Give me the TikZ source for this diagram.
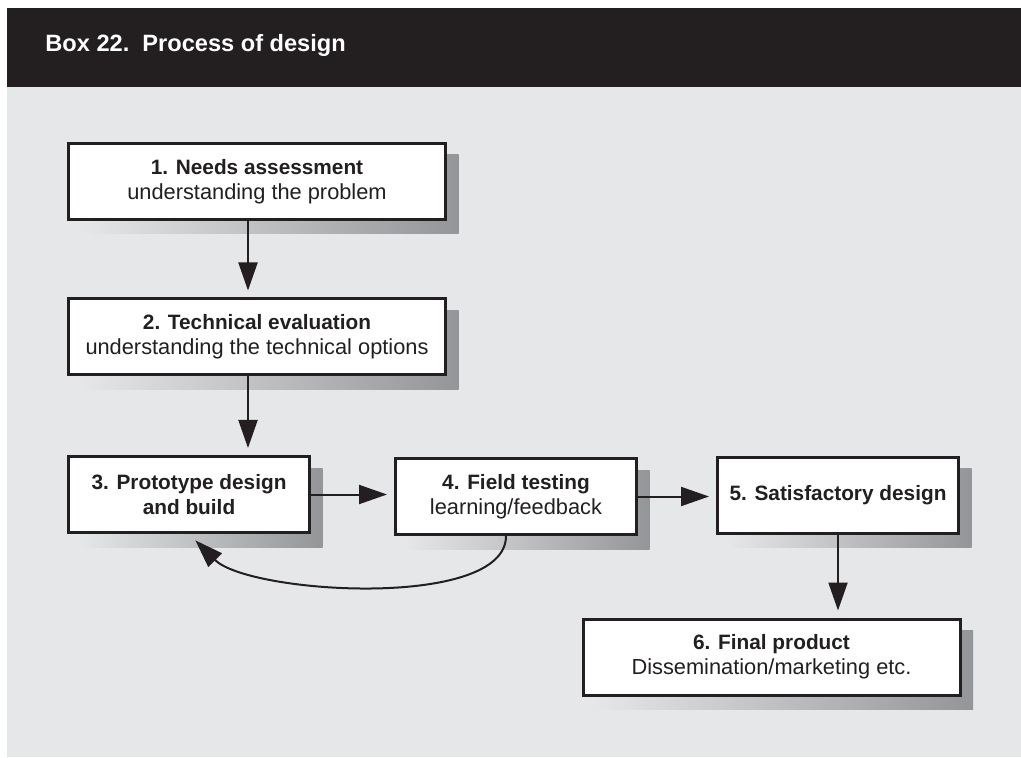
\documentclass[tikz,border=0pt]{standalone}
\usepackage{fontspec}
\setmainfont{Liberation Sans}
\usetikzlibrary{arrows.meta}
\definecolor{headdark}{HTML}{231F20}
\definecolor{panelgray}{HTML}{E6E7E8}
\definecolor{shadegray}{HTML}{939598}
\pgfdeclarelayer{back}
\pgfdeclarelayer{shade}
\pgfsetlayers{back,shade,main}
\newcommand{\stephead}[1]{{\bfseries\fontsize{10.4}{12.6}\selectfont #1}}

\begin{document}
\begin{tikzpicture}[x=0.5pt, y=-0.5pt,
    stepbox/.style={draw=headdark, line width=1.5pt, fill=white, align=center,
      inner sep=0pt, text=headdark, font=\fontsize{10.9}{12.6}\selectfont},
    widebox/.style={stepbox, minimum width=188.5pt, minimum height=38pt},
    smallbox/.style={stepbox, minimum width=120.5pt, minimum height=38pt},
    flow/.style={-{Triangle[length=14pt,width=9.5pt]}, line width=1pt,
      draw=headdark, shorten >=3.5pt}]
    \useasboundingbox (0,0) rectangle (1021,758);

    % Header bar and grey panel
    \begin{pgfonlayer}{back}
        \fill[headdark] (7,8) rectangle (1021,87);
        \fill[panelgray] (7,87) rectangle (1021,757);
    \end{pgfonlayer}
    \node[anchor=base west, inner sep=0pt, text=white, font=\bfseries\fontsize{11.8}{14}\selectfont]
        (title) at (45,52) {Box 22.\ \ Process of design};

    % The six steps
    \node[widebox] (needs) at (257,181.5) {\stephead{1. Needs assessment}\\ understanding the problem};
    \node[widebox] (tech) at (257,337) {\stephead{2. Technical evaluation}\\ understanding the technical options};
    \node[smallbox, font=\bfseries\fontsize{10.4}{12.6}\selectfont] (proto) at (189,494.5) {3. Prototype design\\ and build};
    \node[smallbox] (field) at (516,496.5) {\stephead{4. Field testing}\\ learning/feedback};
    \node[smallbox, font=\bfseries\fontsize{10.4}{12.6}\selectfont] (satis) at (838,495) {5. Satisfactory design};
    \node[widebox] (final) at (771.5,657) {\stephead{6. Final product}\\ Dissemination/marketing etc.};

    % Shadows behind the boxes
    \begin{pgfonlayer}{shade}
        \foreach \b in {needs,tech,proto,field,satis,final}
            \shade[left color=panelgray, right color=shadegray]
                ([shift={(5.75pt,-6.5pt)}]\b.north west) rectangle ([shift={(5.75pt,-6.5pt)}]\b.south east);
    \end{pgfonlayer}

    % Arrows between the steps
    \draw[flow] ([xshift=-4.5pt]needs.south) -- ([xshift=-4.5pt]needs.south |- tech.north);
    \draw[flow] ([xshift=-4.5pt]tech.south) -- ([xshift=-4.5pt]tech.south |- proto.north);
    \draw[flow] (proto.east) -- (proto.east -| field.west);
    \draw[flow] (field.east) -- (field.east -| satis.west);
    \draw[flow] (satis.south) -- (satis.south |- final.north);

    % Feedback loop back to the prototype
    \draw[flow, shorten >=4.5pt] ([xshift=-5pt]field.south) .. controls +(0,-37pt) and +(30pt,-30pt) .. (proto.south);
\end{tikzpicture}
\end{document}
